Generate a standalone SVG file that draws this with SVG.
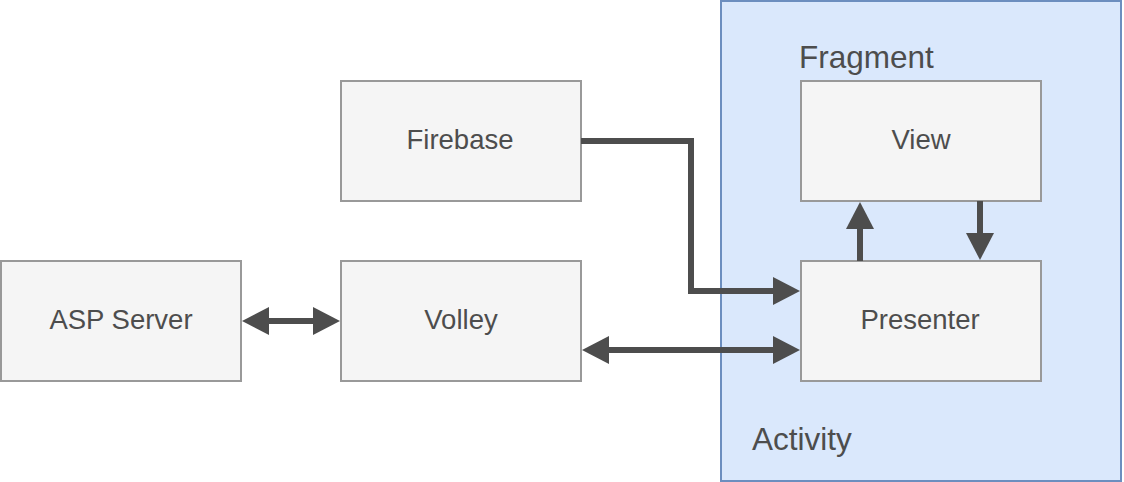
<svg xmlns="http://www.w3.org/2000/svg" width="1124" height="482" viewBox="0 0 1124 482">
  <style>
    .box { fill: #f5f5f5; stroke: #999999; stroke-width: 2; }
    .lbl { font-family: "Liberation Sans", Arial, sans-serif; font-size: 27.5px; fill: #4d4d4d; text-anchor: middle; }
    .big { font-family: "Liberation Sans", Arial, sans-serif; font-size: 31.5px; fill: #4d4d4d; }
    .conn { fill: none; stroke: #4d4d4d; stroke-width: 6; }
  </style>
  <defs>
    <marker id="head" markerUnits="userSpaceOnUse" markerWidth="28" markerHeight="28" refX="0" refY="14" orient="auto-start-reverse" overflow="visible">
      <path d="M0,0 L27,14 L0,28 Z" fill="#4d4d4d"/>
    </marker>
  </defs>
  <rect width="1124" height="482" fill="#ffffff"/>

  <g id="activity">
    <rect x="721" y="1" width="400" height="480" fill="#dae8fc" stroke="#6c8ebf" stroke-width="2"/>
    <text class="big" x="752" y="450">Activity</text>
  </g>
  <g id="fragment-label">
    <text class="big" x="799" y="68">Fragment</text>
  </g>

  <g id="firebase">
    <rect class="box" x="341" y="81" width="240" height="120"/>
    <text class="lbl" x="460" y="149">Firebase</text>
  </g>
  <g id="asp-server">
    <rect class="box" x="1" y="261" width="240" height="120"/>
    <text class="lbl" x="121" y="329">ASP Server</text>
  </g>
  <g id="volley">
    <rect class="box" x="341" y="261" width="240" height="120"/>
    <text class="lbl" x="461" y="329">Volley</text>
  </g>
  <g id="view">
    <rect class="box" x="801" y="81" width="240" height="120"/>
    <text class="lbl" x="921" y="149">View</text>
  </g>
  <g id="presenter">
    <rect class="box" x="801" y="261" width="240" height="120"/>
    <text class="lbl" x="920" y="329">Presenter</text>
  </g>

  <g id="connectors">
    <path class="conn" d="M581,141 H691 V291 H773" marker-end="url(#head)"/>
    <path class="conn" d="M269,321 H313" marker-start="url(#head)" marker-end="url(#head)"/>
    <path class="conn" d="M609,350 H773" marker-start="url(#head)" marker-end="url(#head)"/>
    <path class="conn" d="M860,261 V229" marker-end="url(#head)"/>
    <path class="conn" d="M980,201 V233" marker-end="url(#head)"/>
  </g>
</svg>
